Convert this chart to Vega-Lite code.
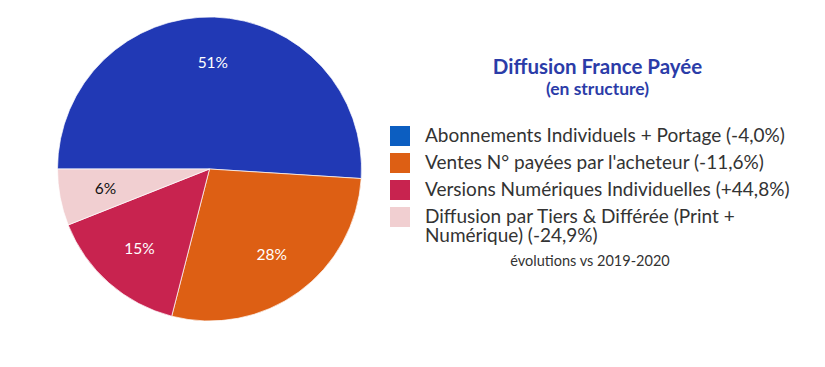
{
  "$schema": "https://vega.github.io/schema/vega-lite/v6.json",
  "width": 419,
  "height": 338,
  "autosize": {"type": "none"},
  "padding": {"left": 0, "top": 0, "right": 406, "bottom": 29},
  "background": "white",
  "config": {"view": {"stroke": null}, "font": "Lato", "style": {"guide-label": {"lineHeight": 19}}},
  "title": {
    "text": "Diffusion France Payée",
    "subtitle": "(en structure)",
    "anchor": "middle",
    "dx": 388,
    "dy": 102,
    "font": "Lato",
    "fontSize": 20.5,
    "fontWeight": "bold",
    "color": "#2b3ca8",
    "subtitleFont": "Lato",
    "subtitleFontSize": 17.5,
    "subtitleFontWeight": "bold",
    "subtitleColor": "#2b3ca8",
    "subtitlePadding": 2
  },
  "data": {
    "values": [
      {"cat": "Abonnements Individuels + Portage (-4,0%)", "value": 51, "pct": "51%", "ord": 1},
      {"cat": "Ventes N° payées par l'acheteur (-11,6%)", "value": 28, "pct": "28%", "ord": 2},
      {"cat": "Versions Numériques Individuelles (+44,8%)", "value": 15, "pct": "15%", "ord": 3},
      {"cat": "Diffusion par Tiers & Différée (Print + Numérique) (-24,9%)", "value": 6, "pct": "6%", "ord": 4}
    ]
  },
  "encoding": {
    "theta": {"field": "value", "type": "quantitative", "stack": true, "scale": {"range": [-1.5707963, 4.712389]}},
    "order": {"field": "ord", "type": "quantitative"}
  },
  "resolve": {"scale": {"color": "independent"}},
  "layer": [
    {
      "mark": {"type": "arc", "outerRadius": 152, "stroke": "white", "strokeWidth": 0.7},
      "encoding": {
        "color": {
          "field": "cat",
          "type": "nominal",
          "sort": {"field": "ord"},
          "scale": {
            "domain": [
              "Abonnements Individuels + Portage (-4,0%)",
              "Ventes N° payées par l'acheteur (-11,6%)",
              "Versions Numériques Individuelles (+44,8%)",
              "Diffusion par Tiers & Différée (Print + Numérique) (-24,9%)"
            ],
            "range": ["#2139b5", "#dd5f14", "#c8234f", "#f1cfd1"]
          },
          "legend": null
        }
      }
    },
    {
      "mark": {"type": "arc", "outerRadius": 0, "innerRadius": 0},
      "encoding": {
        "color": {
          "field": "cat",
          "type": "nominal",
          "sort": {"field": "ord"},
          "scale": {
            "domain": [
              "Abonnements Individuels + Portage (-4,0%)",
              "Ventes N° payées par l'acheteur (-11,6%)",
              "Versions Numériques Individuelles (+44,8%)",
              "Diffusion par Tiers & Différée (Print + Numérique) (-24,9%)"
            ],
            "range": ["#0c5ec1", "#dd5f14", "#c8234f", "#f1cfd1"]
          },
          "legend": {
            "orient": "none",
            "legendX": 390,
            "legendY": 126,
            "padding": 0,
            "title": "évolutions vs 2019-2020",
            "titleOrient": "bottom",
            "titleAnchor": "middle",
            "titleFont": "Lato",
            "titleFontSize": 14.5,
            "titleFontWeight": "normal",
            "titleColor": "#333333",
            "titlePadding": 9,
            "symbolType": "square",
            "symbolSize": 400,
            "symbolStrokeWidth": 0,
            "symbolOpacity": 1,
            "labelFont": "Lato",
            "labelFontSize": 19,
            "labelColor": "#333333",
            "labelOffset": 15,
            "labelLimit": 0,
            "rowPadding": 7,
            "labelExpr": "datum.label == 'Diffusion par Tiers & Différée (Print + Numérique) (-24,9%)' ? ['Diffusion par Tiers & Différée (Print +', 'Numérique) (-24,9%)'] : datum.label"
          }
        }
      }
    },
    {
      "mark": {"type": "text", "radius": 106, "font": "Lato", "fontSize": 15.5, "baseline": "middle", "align": "center"},
      "encoding": {
        "text": {"field": "pct", "type": "nominal"},
        "color": {"condition": {"test": "datum.value < 10", "value": "#111111"}, "value": "#ffffff"}
      }
    }
  ]
}
